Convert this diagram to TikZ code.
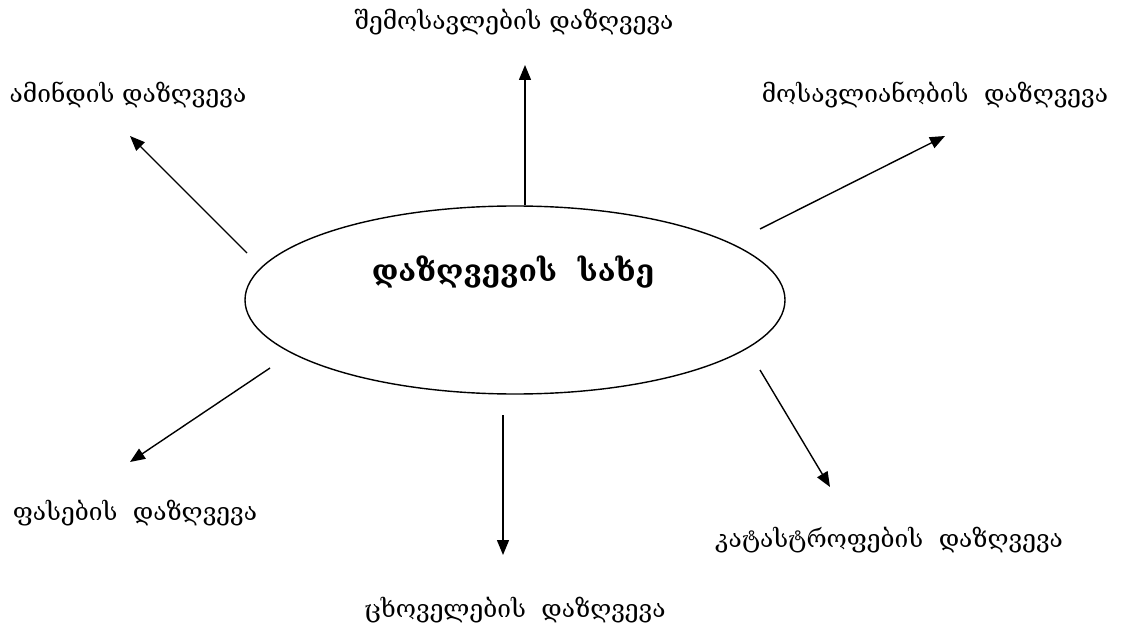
\documentclass[tikz,border=0pt]{standalone}
\usepackage{fontspec}
\setmainfont{DejaVu Serif}
\usetikzlibrary{arrows.meta,shapes.geometric}
\tikzset{>={Triangle[length=15pt,width=12pt]}}

\begin{document}
\begin{tikzpicture}[
    x=1pt, y=-1pt,
    kindshape/.style={draw, ellipse, minimum width=540pt, minimum height=188pt, inner sep=0pt},
    kindtext/.style={font=\fontsize{30}{34}\selectfont\bfseries, inner sep=0pt},
    subtype/.style={font=\fontsize{24.5}{28}\selectfont, inner sep=0pt},
    line width=1.4pt
  ]
    \useasboundingbox (0,0) rectangle (1129,628);
    \node[kindshape] (kind) at (515,300) {};
    \node[kindtext] (kindname) at (513,272) {დაზღვევის~ სახე};
    \node[subtype] (income) at (514,22) {შემოსავლების დაზღვევა};
    \node[subtype] (weather) at (128,95) {ამინდის დაზღვევა};
    \node[subtype] (yield) at (935,95) {მოსავლიანობის~ დაზღვევა};
    \node[subtype] (prices) at (135,513) {ფასების~ დაზღვევა};
    \node[subtype] (disaster) at (889,540) {კატასტროფების~ დაზღვევა};
    \node[subtype] (animals) at (515,610) {ცხოველების~ დაზღვევა};
    % arrow ends
    \coordinate (up-s) at (525,205);   \coordinate (up-e) at (525,65);
    \coordinate (ul-s) at (247,253);   \coordinate (ul-e) at (130,136);
    \coordinate (ur-s) at (760,229);   \coordinate (ur-e) at (945,136);
    \coordinate (dl-s) at (270,368);   \coordinate (dl-e) at (130,462);
    \coordinate (dr-s) at (760,370);   \coordinate (dr-e) at (830,487);
    \coordinate (dn-s) at (503,415);   \coordinate (dn-e) at (503,555);
    \draw[->] (up-s) -- (up-e);
    \draw[->] (ul-s) -- (ul-e);
    \draw[->] (ur-s) -- (ur-e);
    \draw[->] (dl-s) -- (dl-e);
    \draw[->] (dr-s) -- (dr-e);
    \draw[->] (dn-s) -- (dn-e);
\end{tikzpicture}
\end{document}
